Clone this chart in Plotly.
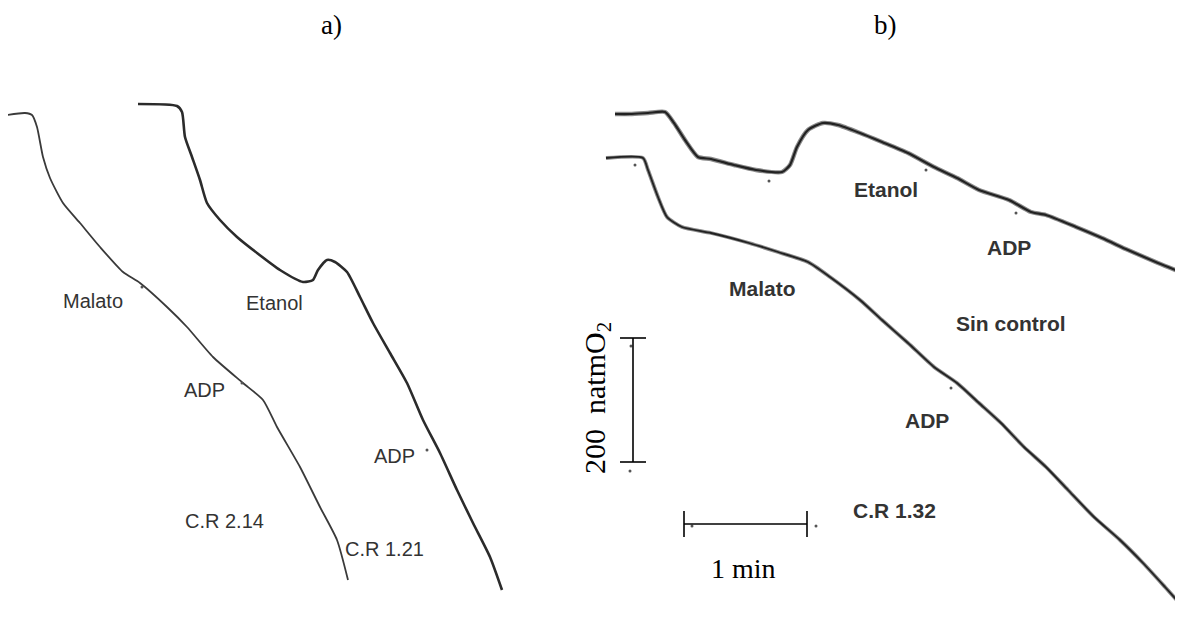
import plotly.graph_objects as go

# Panel a) traces (x = time axis in px-units, y = O2 signal in px-units, reversed)
a_malato_x = [7, 25, 32, 37, 43, 50, 63, 80, 100, 123, 140, 167, 187, 213, 243, 263, 277, 300, 320, 337, 348]
a_malato_y = [115, 113, 115, 127, 157, 178, 203, 223, 247, 272, 283, 307, 327, 357, 383, 400, 427, 467, 507, 540, 580]

a_etanol_x = [138, 177, 182, 185, 192, 200, 207, 220, 237, 257, 280, 303, 313, 318, 327, 335, 347, 360, 373, 390, 407, 423, 440, 457, 473, 490, 502]
a_etanol_y = [104, 106, 112, 137, 157, 180, 203, 220, 237, 253, 270, 282, 280, 270, 260, 262, 272, 297, 323, 353, 383, 420, 453, 490, 523, 557, 590]

# Panel b) traces
b_etanol_x = [615, 630, 648, 665, 674, 685, 698, 711, 734, 756, 782, 790, 797, 808, 823, 838, 860, 882, 908, 934, 957, 979, 1009, 1031, 1046, 1076, 1102, 1128, 1158, 1183]
b_etanol_y = [114, 114, 113, 112, 123, 140, 157, 159, 165, 170, 172, 165, 147, 130, 123, 125, 133, 142, 153, 167, 178, 190, 200, 212, 215, 227, 238, 250, 263, 273]

b_malato_x = [606, 643, 648, 658, 667, 682, 711, 749, 778, 808, 830, 860, 882, 908, 934, 957, 979, 1001, 1024, 1046, 1068, 1094, 1120, 1143, 1165, 1183]
b_malato_y = [158, 158, 170, 197, 217, 227, 233, 243, 252, 262, 277, 300, 320, 343, 367, 383, 403, 423, 447, 467, 490, 517, 540, 563, 587, 607]

# Scale bars (200 natmO2 vertical, 1 min horizontal)
scale_o2_x = [633, 633]
scale_o2_y = [338, 462]
scale_t_x = [684, 807]
scale_t_y = [524, 524]

# Event tick marks (additions)
tick_x = [142, 242, 427, 635, 769, 926, 1016, 951, 631, 630, 692, 816]
tick_y = [287, 383, 450, 165, 181, 170, 213, 388, 346, 471, 526, 526]

fig = go.Figure()

def trace(x, y, w, c="#2b2b2b"):
    fig.add_trace(go.Scatter(x=x, y=y, mode="lines", line=dict(color=c, width=w, shape="spline", smoothing=0.6),
                             hoverinfo="skip", showlegend=False))

trace(a_malato_x, a_malato_y, 1.8, "#3a3a3a")
trace(a_etanol_x, a_etanol_y, 2.6)
trace(b_etanol_x, b_etanol_y, 4.4, "#8a8a8a")
trace(b_etanol_x, b_etanol_y, 2.2, "#222222")
trace(b_malato_x, b_malato_y, 3.8, "#8a8a8a")
trace(b_malato_x, b_malato_y, 1.8, "#222222")

fig.add_trace(go.Scatter(x=tick_x, y=tick_y, mode="markers", marker=dict(size=3, color="#555555"),
                         hoverinfo="skip", showlegend=False))

# scale bars
fig.add_trace(go.Scatter(x=scale_o2_x, y=scale_o2_y, mode="lines", line=dict(color="black", width=1.6),
                         hoverinfo="skip", showlegend=False))
fig.add_trace(go.Scatter(x=scale_t_x, y=scale_t_y, mode="lines", line=dict(color="black", width=1.6),
                         hoverinfo="skip", showlegend=False))
for yv in scale_o2_y:
    fig.add_trace(go.Scatter(x=[620, 646], y=[yv, yv], mode="lines", line=dict(color="black", width=1.6),
                             hoverinfo="skip", showlegend=False))
for xv in scale_t_x:
    fig.add_trace(go.Scatter(x=[xv, xv], y=[511, 537], mode="lines", line=dict(color="black", width=1.6),
                             hoverinfo="skip", showlegend=False))

serif = dict(family="Liberation Serif, Times New Roman, serif", size=27, color="black")
serif_big = dict(family="Liberation Serif, Times New Roman, serif", size=28, color="black")
serif_v = dict(family="Liberation Serif, Times New Roman, serif", size=30, color="black")
sans_a = dict(family="Liberation Sans, Arial, sans-serif", size=20, color="#333333")
sans_b = dict(family="Liberation Sans, Arial, sans-serif", size=21, color="#333333")

labels = [
    ("a)", 331, 25, serif, False),
    ("b)", 885, 25, serif, False),
    ("Malato", 93, 301, sans_a, False),
    ("Etanol", 274, 303, sans_a, False),
    ("ADP", 204, 390, sans_a, False),
    ("ADP", 394, 456, sans_a, False),
    ("C.R 2.14", 224, 521, sans_a, False),
    ("C.R 1.21", 384, 549, sans_a, False),
    ("Etanol", 886, 189, sans_b, True),
    ("ADP", 1009, 247, sans_b, True),
    ("Malato", 762, 288, sans_b, True),
    ("Sin control", 1011, 323, sans_b, True),
    ("ADP", 927, 420, sans_b, True),
    ("C.R 1.32", 894, 510, sans_b, True),
    ("1 min", 743, 568, serif_big, False),
]
for txt, x, y, f, bold in labels:
    t = f"<b>{txt}</b>" if bold else txt
    fig.add_annotation(x=x, y=y, text=t, showarrow=False, font=f, xanchor="center", yanchor="middle")

fig.add_annotation(x=597, y=398, text="200  natmO<sub>2</sub>", showarrow=False, font=serif_v,
                   textangle=-90, xanchor="center", yanchor="middle")

# The page body adds an 8px margin, so the figure covers page pixels 8..1183 / 8..618.
fig.update_layout(
    width=1175, height=610, margin=dict(l=0, r=0, t=0, b=0),
    paper_bgcolor="white", plot_bgcolor="white",
    xaxis=dict(range=[8, 1183], visible=False, fixedrange=True),
    yaxis=dict(range=[618, 8], visible=False, fixedrange=True),
)
fig.write_html("out.html")
